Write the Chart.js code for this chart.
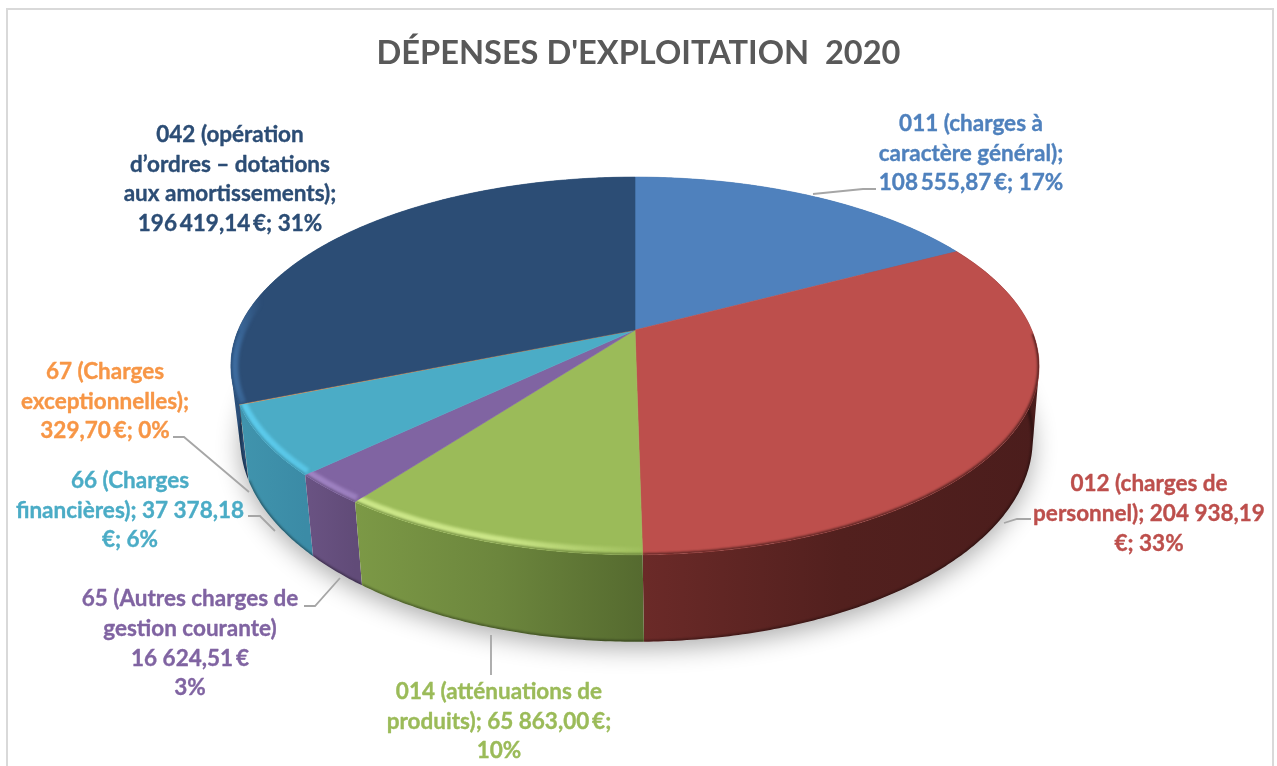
<!DOCTYPE html>
<html lang="fr">
<head>
<meta charset="utf-8">
<title>Dépenses d'exploitation 2020</title>
<script src="https://cdn.jsdelivr.net/npm/chart.js@4"></script>
<style>
  html, body { margin: 0; padding: 0; background: #fff; overflow: hidden; }
  canvas { display: block; }
</style>
</head>
<body>
<canvas id="pie" width="1277" height="766"></canvas>
<script>
// Expense categories and amounts in euros
const categories = ['011', '012', '014', '65', '66', '67', '042'];
const amounts = [108555.87, 204938.19, 65863.00, 16624.51, 37378.18, 329.70, 196419.14];
const titleText = "DÉPENSES D'EXPLOITATION  2020";

// Label text, line by line
const labelLines = [
  ['011 (charges à', 'caractère général);', '108\u2009555,87\u2009€; 17%'],
  ['012 (charges de', 'personnel); 204 938,19', '€; 33%'],
  ['014 (atténuations de', 'produits); 65 863,00\u2009€;', '10%'],
  ['65 (Autres charges de', 'gestion courante)', '16 624,51\u2009€', '3%'],
  ['66 (Charges', 'financières); 37 378,18', '€; 6%'],
  ['67 (Charges', 'exceptionnelles);', '329,70\u2009€; 0%'],
  ['042 (opération', 'd’ordres – dotations', 'aux amortissements);', '196\u2009419,14\u2009€; 31%']
];

const sliceColors = ['#4f81bd', '#bd4f4c', '#9bbb59', '#8064a2', '#4bacc6', '#f79646', '#2c4d75'];

// Side wall shading, left to right across each slice
const wallShades = [
  ['#3a5f8e', '#3a5f8e'],
  ['#6b2a28', '#52201e', '#4b1d1c'],
  ['#7c9946', '#6c863d', '#556a2f'],
  ['#6a5383', '#614b78'],
  ['#4094ad', '#3b8ba6'],
  ['#b06a30', '#b06a30'],
  ['#2a4f7a', '#234268']
];

// Rim light colour and the x range it fades across (colour, x at full, x at none)
const rimLight = [
  null,
  null,
  ['#cbe688', 500, 655],
  ['#a084c4', 300, 640],
  ['#5ccbec', 240, 640],
  null,
  ['#3f6fa3', 232, 262]
];

// Layout of the label blocks: centre x, first line middle, line step
const labelAnchors = [
  [971, 124, 29.5], [1149, 484, 30], [499, 692, 29.5], [190, 599, 29.7],
  [130, 481, 29.5], [105, 372, 29.5], [230, 135, 29.5]
];

// Leader polylines joining labels to their slices
const leaderPaths = [
  [[813, 194], [863, 189], [876, 189]],
  [[1004, 523], [1017, 519], [1031, 519]],
  [[491, 635], [491, 675]],
  [[340, 578], [315, 606], [304, 606]],
  [[248, 516], [260, 516], [275, 531]],
  [[173, 437], [184, 437], [249, 492]],
  []
];

// Perspective model of the disc: top face and base ring share the same tilt
const TILT = 0.19;
const topRing = { cx: 635, k: 396.7, b: 182, cy: 330 };
const baseRing = { cx: 636.5, k: 389, b: 195, cy: 401 };

function project(ring, angle) {
  const x = Math.cos(angle), y = Math.sin(angle), w = 1 - TILT * y;
  return [ring.cx + ring.k * x / w, ring.cy + ring.b * y / w];
}

function traceRim(ctx, ring, from, to, moveFirst) {
  const steps = Math.max(2, Math.ceil(Math.abs(to - from) / 0.006));
  for (let i = 0; i <= steps; i++) {
    const p = project(ring, from + (to - from) * i / steps);
    if (i === 0 && moveFirst) ctx.moveTo(p[0], p[1]); else ctx.lineTo(p[0], p[1]);
  }
}

function topFacePath(ctx, a0, a1) {
  ctx.beginPath();
  ctx.moveTo(topRing.cx, topRing.cy);
  traceRim(ctx, topRing, a0, a1, false);
  ctx.closePath();
}

// The wall is the area swept from the top rim to the base ring, built from
// equally wound quads so that their union fills without holes
function wallPath(ctx, a0, a1) {
  const steps = Math.max(2, Math.ceil((a1 - a0) / 0.01));
  ctx.beginPath();
  for (let i = 0; i < steps; i++) {
    const s = a0 + (a1 - a0) * i / steps;
    const e = a0 + (a1 - a0) * (i + 1) / steps;
    const q = [project(topRing, s), project(topRing, e), project(baseRing, e), project(baseRing, s)];
    let area = 0;
    q.forEach((p, n) => {
      const r = q[(n + 1) % 4];
      area += p[0] * r[1] - r[0] * p[1];
    });
    if (area < 0) q.reverse();
    ctx.moveTo(q[0][0], q[0][1]);
    ctx.lineTo(q[1][0], q[1][1]);
    ctx.lineTo(q[2][0], q[2][1]);
    ctx.lineTo(q[3][0], q[3][1]);
    ctx.closePath();
  }
}

function hexAlpha(hex, alpha) {
  const n = parseInt(hex.slice(1), 16);
  return `rgba(${n >> 16},${(n >> 8) & 255},${n & 255},${alpha})`;
}

// Draws the pie as a tilted disc with a side wall, using the angles of the pie's own arcs
const tiltedPie = {
  id: 'tiltedPie',
  beforeDraw(chart) {
    const ctx = chart.ctx;
    ctx.save();
    ctx.fillStyle = '#fff';
    ctx.fillRect(0, 0, chart.width, chart.height);
    ctx.strokeStyle = '#d9d9d9';
    ctx.lineWidth = 2;
    ctx.strokeRect(7, 9, 1266, 800);
    ctx.restore();
  },
  beforeDatasetsDraw(chart) {
    const ctx = chart.ctx;
    const arcs = chart.getDatasetMeta(0).data;
    const full = -Math.PI / 2;

    // Soft ground shadow
    ctx.save();
    ctx.shadowColor = 'rgba(0,0,0,0.32)';
    ctx.shadowBlur = 24;
    ctx.shadowOffsetY = 7;
    ctx.fillStyle = '#fff';
    ctx.beginPath();
    traceRim(ctx, baseRing, full, full + Math.PI * 2, true);
    ctx.closePath();
    ctx.fill();
    ctx.restore();

    // Side walls, back to front
    const order = arcs.map((arc, i) => i).sort((p, q) =>
      Math.sin((arcs[p].startAngle + arcs[p].endAngle) / 2) -
      Math.sin((arcs[q].startAngle + arcs[q].endAngle) / 2));
    order.forEach(i => {
      const a0 = arcs[i].startAngle, a1 = arcs[i].endAngle;
      const xs = [];
      for (let t = 0; t <= 40; t++) xs.push(project(topRing, a0 + (a1 - a0) * t / 40)[0]);
      const left = Math.min(...xs), right = Math.max(...xs);
      const grad = ctx.createLinearGradient(left, 0, Math.max(right, left + 1), 0);
      wallShades[i].forEach((c, n, all) => grad.addColorStop(n / (all.length - 1), c));
      ctx.save();
      wallPath(ctx, a0, a1);
      ctx.fillStyle = grad;
      ctx.fill();
      ctx.clip();
      // Darkened foot of the wall
      ctx.filter = 'blur(1px)';
      ctx.strokeStyle = 'rgba(0,0,0,0.38)';
      ctx.lineWidth = 3;
      ctx.beginPath();
      traceRim(ctx, baseRing, a0, a1, true);
      ctx.stroke();
      ctx.restore();
    });

    // Top faces
    arcs.forEach(arc => {
      const color = arc.options.backgroundColor;
      topFacePath(ctx, arc.startAngle, arc.endAngle);
      ctx.fillStyle = color;
      ctx.strokeStyle = color;
      ctx.lineWidth = 0.6;
      ctx.fill();
      ctx.stroke();
    });

    // Soft edge where each top face turns down into its wall
    arcs.forEach((arc, i) => {
      const a0 = arc.startAngle, a1 = arc.endAngle;
      ctx.save();
      topFacePath(ctx, a0, a1);
      ctx.clip();
      const light = rimLight[i];
      if (light) {
        const g = ctx.createLinearGradient(light[1], 0, light[2], 0);
        g.addColorStop(0, hexAlpha(light[0], 1));
        g.addColorStop(1, hexAlpha(light[0], 0));
        ctx.filter = 'blur(1.5px)';
        ctx.strokeStyle = g;
        ctx.lineWidth = 15;
        ctx.beginPath();
        traceRim(ctx, topRing, a0, a1, true);
        ctx.stroke();
      }
      // Only the front of the rim falls away into shade
      const frontFrom = Math.max(a0, 0.02);
      const frontTo = Math.min(a1, Math.PI);
      if (frontTo > frontFrom) {
        ctx.filter = 'blur(1.2px)';
        const shade = wallShades[i];
        const g2 = ctx.createLinearGradient(240, 0, 1040, 0);
        g2.addColorStop(0, shade[0]);
        g2.addColorStop(1, shade[shade.length - 1]);
        ctx.strokeStyle = g2;
        ctx.lineWidth = 3;
        ctx.beginPath();
        traceRim(ctx, topRing, frontFrom, frontTo, true);
        ctx.stroke();
      }
      ctx.restore();
    });

    return false;
  },
  afterDraw(chart) {
    const ctx = chart.ctx;
    ctx.save();
    // Leader lines
    ctx.strokeStyle = '#a6a6a6';
    ctx.lineWidth = 1.8;
    leaderPaths.forEach(path => {
      if (!path.length) return;
      ctx.beginPath();
      path.forEach((p, n) => n ? ctx.lineTo(p[0], p[1]) : ctx.moveTo(p[0], p[1]));
      ctx.stroke();
    });
    // Data labels, with a hairline outline to thicken the strokes slightly
    ctx.font = 'bold 22.5px Lato';
    ctx.textAlign = 'center';
    ctx.textBaseline = 'middle';
    ctx.lineWidth = 0.35;
    ctx.lineJoin = 'round';
    labelLines.forEach((lines, i) => {
      const [x, y, step] = labelAnchors[i];
      ctx.fillStyle = sliceColors[i];
      ctx.strokeStyle = sliceColors[i];
      lines.forEach((line, n) => {
        ctx.fillText(line, x, y + n * step);
        ctx.strokeText(line, x, y + n * step);
      });
    });
    ctx.restore();
  }
};

new Chart(document.getElementById('pie'), {
  type: 'pie',
  data: {
    labels: categories,
    datasets: [{ data: amounts, backgroundColor: sliceColors, borderWidth: 0 }]
  },
  options: {
    responsive: false,
    animation: false,
    plugins: {
      legend: { display: false },
      tooltip: { enabled: false },
      title: {
        display: true,
        text: titleText,
        color: '#595959',
        font: { family: 'Lato', weight: 'bold', size: 32.6 },
        padding: { top: 34, bottom: 10 }
      }
    }
  },
  plugins: [tiltedPie]
});
</script>
</body>
</html>
